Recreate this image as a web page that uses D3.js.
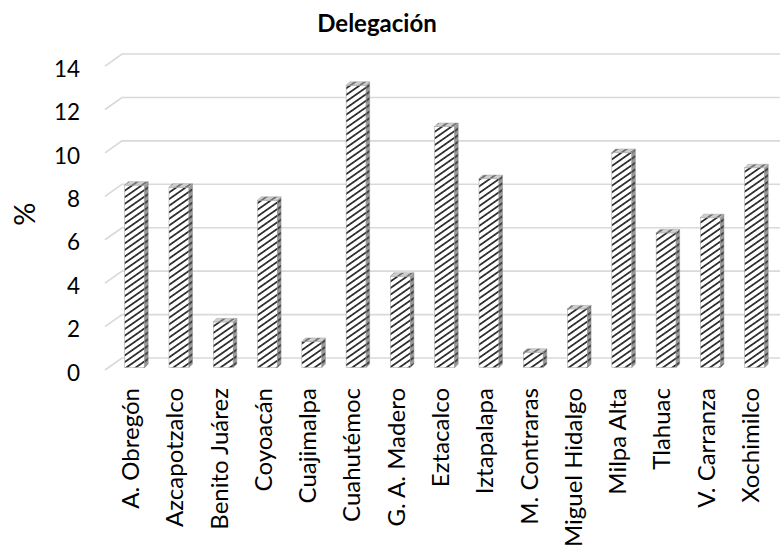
<!DOCTYPE html>
<html>
<head>
<meta charset="utf-8">
<script src="https://cdn.jsdelivr.net/npm/d3@7"></script>
<style>
  html, body { margin: 0; padding: 0; background: #fff; }
  svg { display: block; }
  text { font-family: Lato, "Open Sans", sans-serif; fill: #000; }
</style>
</head>
<body>
<svg id="chart" width="780" height="548"></svg>
<script>
// Share (%) by delegación
const categories = [
  "A. Obregón", "Azcapotzalco", "Benito Juárez", "Coyoacán", "Cuajimalpa",
  "Cuahutémoc", "G. A. Madero", "Eztacalco", "Iztapalapa", "M. Contraras",
  "Miguel Hidalgo", "Milpa Alta", "Tlahuac", "V. Carranza", "Xochimilco"
];
const values = [8.4, 8.3, 2.1, 7.7, 1.2, 13.0, 4.2, 11.1, 8.7, 0.7, 2.7, 9.9, 6.2, 6.9, 9.2];
const yTicks = [0, 2, 4, 6, 8, 10, 12, 14];
const chartTitle = "Delegación";
const yTitle = "%";

const W = 780, H = 548;
const svg = d3.select("#chart");

// 3D layout: bars stand on the floor, walls sit behind
const base = 367.5;          // bar front bottom
const wallShift = 9.5;       // back wall is drawn higher than the bar plane
const wallDX = 17, wallDY = 12;
const wallLeft = 122;
const depth = 3.5;

const y = d3.scaleLinear().domain([0, 14]).range([base, base - 14 * 21.71]);
const yBack = v => y(v) - wallShift;

const x = d3.scaleBand().domain(categories).range([114.3, 778.6]).padding(0);
const step = x.step();
const bw = 20;
const barX = c => x(c) + (step - bw - depth) / 2;

// hatch fills for front, side and top faces
const defs = svg.append("defs");
function hatch(id, bg, line, thick) {
  const p = defs.append("pattern")
    .attr("id", id)
    .attr("patternUnits", "userSpaceOnUse")
    .attr("width", 6).attr("height", 5.4)
    .attr("patternTransform", "rotate(-35)");
  p.append("rect").attr("width", 6).attr("height", 5.4).attr("fill", bg);
  p.append("rect").attr("width", 6).attr("height", thick).attr("fill", line);
}
hatch("hFront", "#ffffff", "#303030", 1.8);
hatch("hSide", "#9a9a9a", "#404040", 2.0);
hatch("hTop", "#d0d0d0", "#707070", 1.8);

// gridlines on the back wall with the left wall diagonal
const grid = svg.append("g").attr("fill", "none").attr("stroke", "#d9d9d9").attr("stroke-width", 1.6);
yTicks.forEach(t => {
  const yb = yBack(t);
  grid.append("path")
    .attr("d", `M${wallLeft - wallDX},${yb + wallDY}L${wallLeft},${yb}L${W},${yb}`);
});

// y tick labels
svg.append("g").selectAll("text").data(yTicks).join("text")
  .attr("x", 80)
  .attr("y", d => yBack(d) + 22.7)
  .attr("text-anchor", "end")
  .attr("font-size", 22.5)
  .text(d => d);

// bars
const bars = svg.append("g").selectAll("g").data(categories).join("g");
bars.append("rect")
  .attr("x", c => barX(c))
  .attr("y", (c, i) => y(values[i]))
  .attr("width", bw)
  .attr("height", (c, i) => base - y(values[i]))
  .attr("fill", "url(#hFront)")
  .attr("stroke", "#a0a0a0").attr("stroke-width", 0.5);
bars.append("path")
  .attr("d", (c, i) => {
    const x1 = barX(c) + bw, yt = y(values[i]);
    return `M${x1},${yt}L${x1 + depth},${yt - depth}L${x1 + depth},${base - depth}L${x1},${base}Z`;
  })
  .attr("fill", "url(#hSide)")
  .attr("stroke", "#8a8a8a").attr("stroke-width", 0.5);
bars.append("path")
  .attr("d", (c, i) => {
    const x0 = barX(c), yt = y(values[i]);
    return `M${x0},${yt}L${x0 + depth},${yt - depth}L${x0 + bw + depth},${yt - depth}L${x0 + bw},${yt}Z`;
  })
  .attr("fill", "url(#hTop)")
  .attr("stroke", "#a0a0a0").attr("stroke-width", 0.5);

// category labels, rotated
svg.append("g").selectAll("text").data(categories).join("text")
  .attr("transform", c => `translate(${barX(c) + (bw + depth) / 2 + 2.5},388) rotate(-90)`)
  .attr("text-anchor", "end")
  .attr("font-size", 24)
  .text(c => c);

// titles
svg.append("text")
  .attr("x", 377).attr("y", 32)
  .attr("text-anchor", "middle")
  .attr("font-size", 24)
  .attr("font-weight", "bold")
  .text(chartTitle);

svg.append("text")
  .attr("transform", "translate(35,214) rotate(-90)")
  .attr("text-anchor", "middle")
  .attr("font-size", 29)
  .text(yTitle);
</script>
</body>
</html>
